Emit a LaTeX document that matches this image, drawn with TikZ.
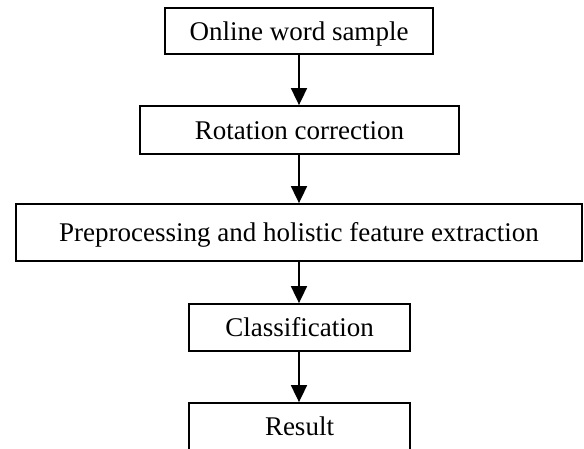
\documentclass[tikz,border=0pt]{standalone}
\usepackage{fontspec}
\setmainfont{Liberation Serif}
\usetikzlibrary{arrows.meta}

\tikzset{
  stagebox/.style={draw=black, line width=1.8pt, inner sep=0pt,
    font=\fontsize{27}{32}\selectfont, text height=18pt, text depth=0pt,
    align=center},
  flowarrow/.style={draw=black, line width=1.8pt,
    -{Triangle[width=16pt,length=17pt]}}
}

\begin{document}
\begin{tikzpicture}[x=1pt,y=1pt]
  \useasboundingbox (0,0) rectangle (584,-448);

  \node[stagebox, minimum width=268pt, minimum height=46pt] (sample) at (299,-31) {Online word sample};
  \node[stagebox, minimum width=319pt, minimum height=48pt] (rotate) at (299.5,-130) {Rotation correction};
  \node[stagebox, minimum width=566pt, minimum height=57pt] (feature) at (299,-232.5) {Preprocessing and holistic feature extraction};
  \node[stagebox, minimum width=221pt, minimum height=47pt] (classify) at (299.5,-327.5) {Classification};
  \node[stagebox, minimum width=221pt, minimum height=47pt] (result) at (299.5,-426.5) {Result};

  \draw[flowarrow] (sample.south) -- (sample.south |- rotate.north);
  \draw[flowarrow] (rotate.south -| sample.south) -- (sample.south |- feature.north);
  \draw[flowarrow] (feature.south -| sample.south) -- (sample.south |- classify.north);
  \draw[flowarrow] (classify.south -| sample.south) -- (sample.south |- result.north);
\end{tikzpicture}
\end{document}
